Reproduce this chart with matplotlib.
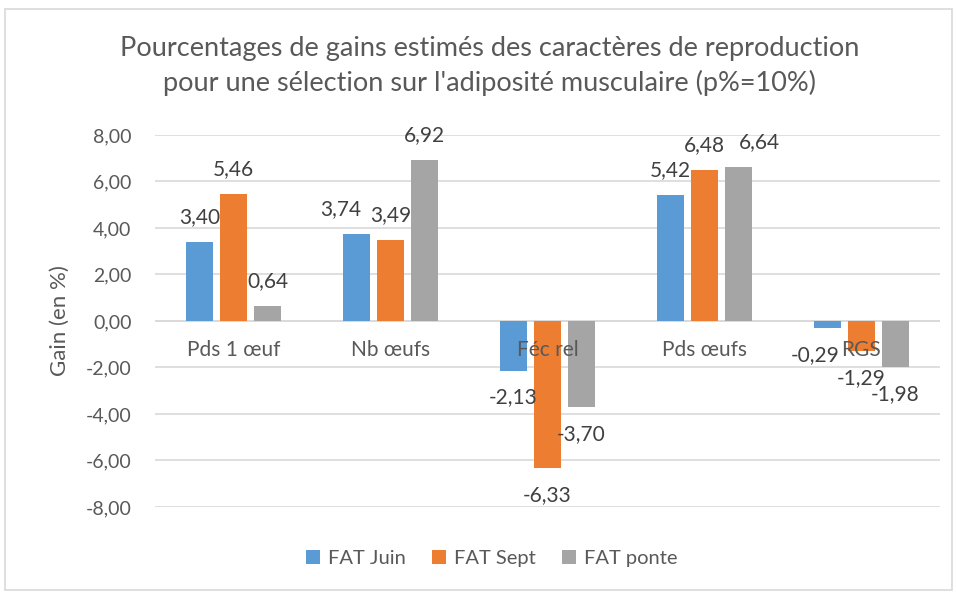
import numpy as np
import matplotlib.pyplot as plt
from matplotlib.patches import Rectangle

plt.rcParams['font.family'] = ['Lato', 'DejaVu Sans']

categories = ["Pds 1 œuf", "Nb œufs", "Féc rel", "Pds œufs", "RGS"]
series_names = ["FAT Juin", "FAT Sept", "FAT ponte"]
fat_juin = [3.40, 3.74, -2.13, 5.42, -0.29]
fat_sept = [5.46, 3.49, -6.33, 6.48, -1.29]
fat_ponte = [0.64, 6.92, -3.70, 6.64, -1.98]
colors = ["#5b9bd5", "#ed7d31", "#a5a5a5"]

# sideways nudges (points) of a few labels, as Excel moved them to avoid overlap
nudge = {(1, 0): -11, (3, 2): 15, (4, 0): -9}

txt = "#595959"
grid = "#d9d9d9"

def fmt(v):
    return f"{v:.2f}".replace(".", ",")

fig = plt.figure(figsize=(9.57, 5.92), dpi=100)
fig.patches.append(Rectangle((0.005, 0.003), 0.99, 0.982, transform=fig.transFigure,
                             fill=False, edgecolor=grid, linewidth=1.2))
ax = fig.add_axes([0.162, 0.1436, 0.82, 0.6284])

x = np.arange(len(categories))
w = 0.174
step = 0.217
for i, (vals, name, c) in enumerate(zip([fat_juin, fat_sept, fat_ponte], series_names, colors)):
    pos = x + (i - 1) * step
    ax.bar(pos, vals, width=w, color=c, label=name, zorder=3)
    for j, (p, v) in enumerate(zip(pos, vals)):
        dx = nudge.get((j, i), 0)
        dy = 18 if v >= 0 else -19.5
        ax.annotate(fmt(v), (p, v), xytext=(dx, dy), textcoords="offset points",
                    ha="center", va="center", fontsize=15, color="#404040", zorder=5)

# category names sit on the zero line, drawn over the bars
for xi, cat in zip(x, categories):
    ax.annotate(cat, (xi, 0), xytext=(0, -21), textcoords="offset points",
                ha="center", va="center", fontsize=15, color=txt, zorder=6)

ax.set_xlim(-0.5, len(categories) - 0.5)
ax.set_ylim(-8, 8)
ax.set_yticks(np.arange(-8, 9, 2))
ax.set_yticklabels([fmt(v) for v in np.arange(-8, 9, 2)])
ax.set_xticks([])
ax.grid(axis="y", color=grid, linewidth=1.2, zorder=0)
for s in ["top", "right", "left", "bottom"]:
    ax.spines[s].set_visible(False)
ax.axhline(0, color=grid, linewidth=1.2, zorder=1)
ax.tick_params(axis="y", length=0, pad=17, labelsize=14, labelcolor=txt)
ax.set_ylabel("Gain (en %)", fontsize=16, color=txt, labelpad=11)

fig.suptitle("Pourcentages de gains estimés des caractères de reproduction\n"
             "pour une sélection sur l'adiposité musculaire (p%=10%)",
             x=0.512, y=0.94, fontsize=19.5, color=txt, linespacing=1.45)

fig.legend(loc="center", bbox_to_anchor=(0.514, 0.057), ncol=3, frameon=False,
           fontsize=14.5, labelcolor=txt, handlelength=0.7, handleheight=0.7,
           columnspacing=1.3, handletextpad=0.4)

fig.savefig("out.png", dpi=100)
